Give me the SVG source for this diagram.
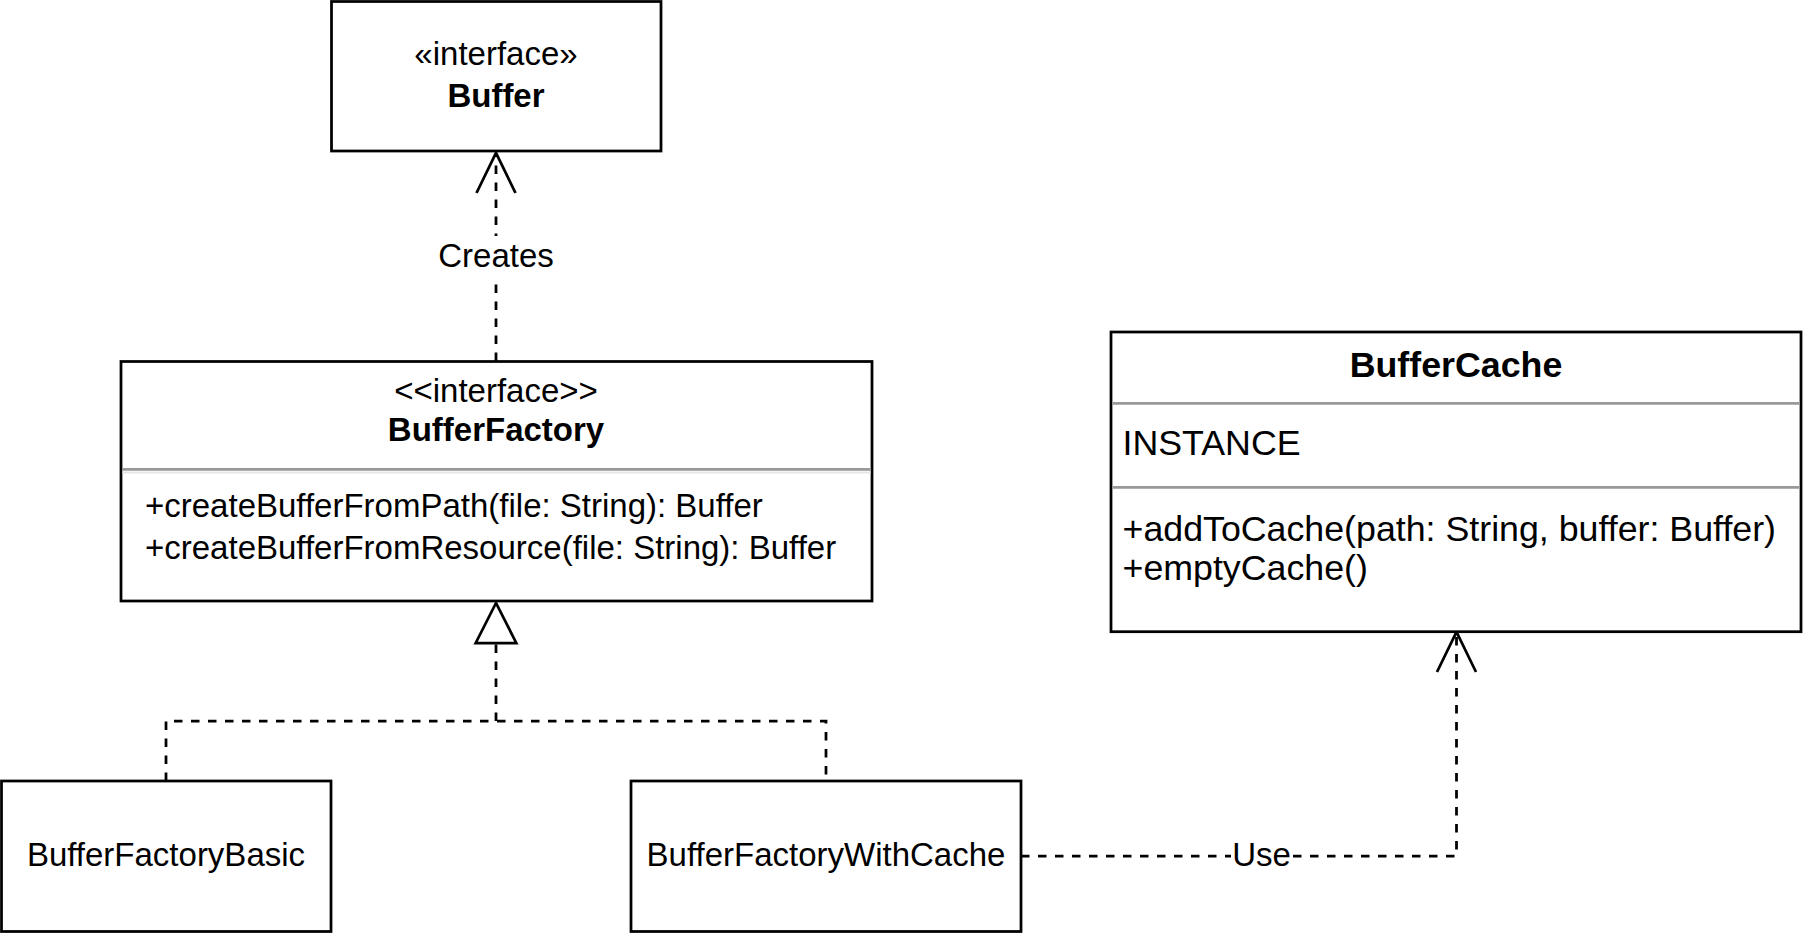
<svg xmlns="http://www.w3.org/2000/svg" width="1803" height="933" viewBox="0 0 1803 933">
  <style>
    .box { fill: #ffffff; stroke: #000000; stroke-width: 2.75; }
    .t { font-family: "Liberation Sans", Arial, Helvetica, sans-serif; font-size: 33px; fill: #000000; }
    .tb { font-weight: bold; }
    .big { font-size: 35.75px; }
    .mid { text-anchor: middle; }
    .sep { stroke: #999999; stroke-width: 2.75; }
    .sep2 { stroke: #e6e6e6; stroke-width: 2; }
    .edge { fill: none; stroke: #000000; stroke-width: 2.75; stroke-dasharray: 8.5 8.5; }
    .lbl { fill: #ffffff; stroke: none; }
  </style>
  <defs>
    <marker id="open" markerUnits="userSpaceOnUse" viewBox="-45 -25 50 50" refX="0" refY="0" markerWidth="50" markerHeight="50" orient="auto" overflow="visible">
      <path d="M -40 -19.5 L 0 0 L -40 19.5" fill="none" stroke="#000000" stroke-width="2.75" stroke-dasharray="none"/>
    </marker>
    <marker id="tri" markerUnits="userSpaceOnUse" viewBox="-45 -25 50 50" refX="0" refY="0" markerWidth="50" markerHeight="50" orient="auto" overflow="visible">
      <path d="M 0 0 L -40 -20.3 L -40 20.3 Z" fill="#ffffff" stroke="#000000" stroke-width="2.75" stroke-dasharray="none"/>
    </marker>
  </defs>
  <rect width="1803" height="933" fill="#ffffff"/>

  <g id="connectors">
    <path class="edge" d="M 496 361 V 153" marker-end="url(#open)"/>
    <rect class="lbl" x="436" y="236" width="120" height="40"/>
    <text class="t mid" x="496" y="266.7">Creates</text>

    <path class="edge" d="M 166 781 V 721 H 826 V 781"/>
    <path class="edge" d="M 496 721 V 603" marker-end="url(#tri)"/>

    <path class="edge" d="M 1021 856 H 1456.5 V 632" marker-end="url(#open)"/>
    <rect class="lbl" x="1231" y="836" width="61" height="40"/>
    <text class="t mid" x="1261.5" y="865.5">Use</text>
  </g>

  <g id="node-buffer">
    <rect class="box" x="331.5" y="1.5" width="329.5" height="149.5"/>
    <text class="t mid" x="496" y="65">«interface»</text>
    <text class="t tb mid" x="496" y="107">Buffer</text>
  </g>

  <g id="node-bufferfactory">
    <rect class="box" x="121" y="361.5" width="751" height="239.5"/>
    <text class="t mid" x="496" y="401.5">&lt;&lt;interface&gt;&gt;</text>
    <text class="t tb mid" x="496" y="440.5">BufferFactory</text>
    <line class="sep" x1="122.5" y1="469.3" x2="870.5" y2="469.3"/>
    <line class="sep2" x1="122.5" y1="472.5" x2="870.5" y2="472.5"/>
    <text class="t" x="145" y="516.7">+createBufferFromPath(file: String): Buffer</text>
    <text class="t" x="145" y="559.3">+createBufferFromResource(file: String): Buffer</text>
  </g>

  <g id="node-buffercache">
    <rect class="box" x="1111" y="332" width="690" height="299.7"/>
    <text class="t big tb mid" x="1456" y="376.7">BufferCache</text>
    <line class="sep" x1="1112.5" y1="403.3" x2="1799.5" y2="403.3"/>
    <text class="t big" x="1122.5" y="455">INSTANCE</text>
    <line class="sep" x1="1112.5" y1="487.3" x2="1799.5" y2="487.3"/>
    <text class="t big" x="1122.5" y="541">+addToCache(path: String, buffer: Buffer)</text>
    <text class="t big" x="1122.5" y="580">+emptyCache()</text>
  </g>

  <g id="node-bufferfactorybasic">
    <rect class="box" x="1.5" y="781" width="329.5" height="150.5"/>
    <text class="t mid" x="166" y="865.7">BufferFactoryBasic</text>
  </g>

  <g id="node-bufferfactorywithcache">
    <rect class="box" x="631" y="781" width="390" height="150.5"/>
    <text class="t mid" x="826" y="865.7">BufferFactoryWithCache</text>
  </g>
</svg>
